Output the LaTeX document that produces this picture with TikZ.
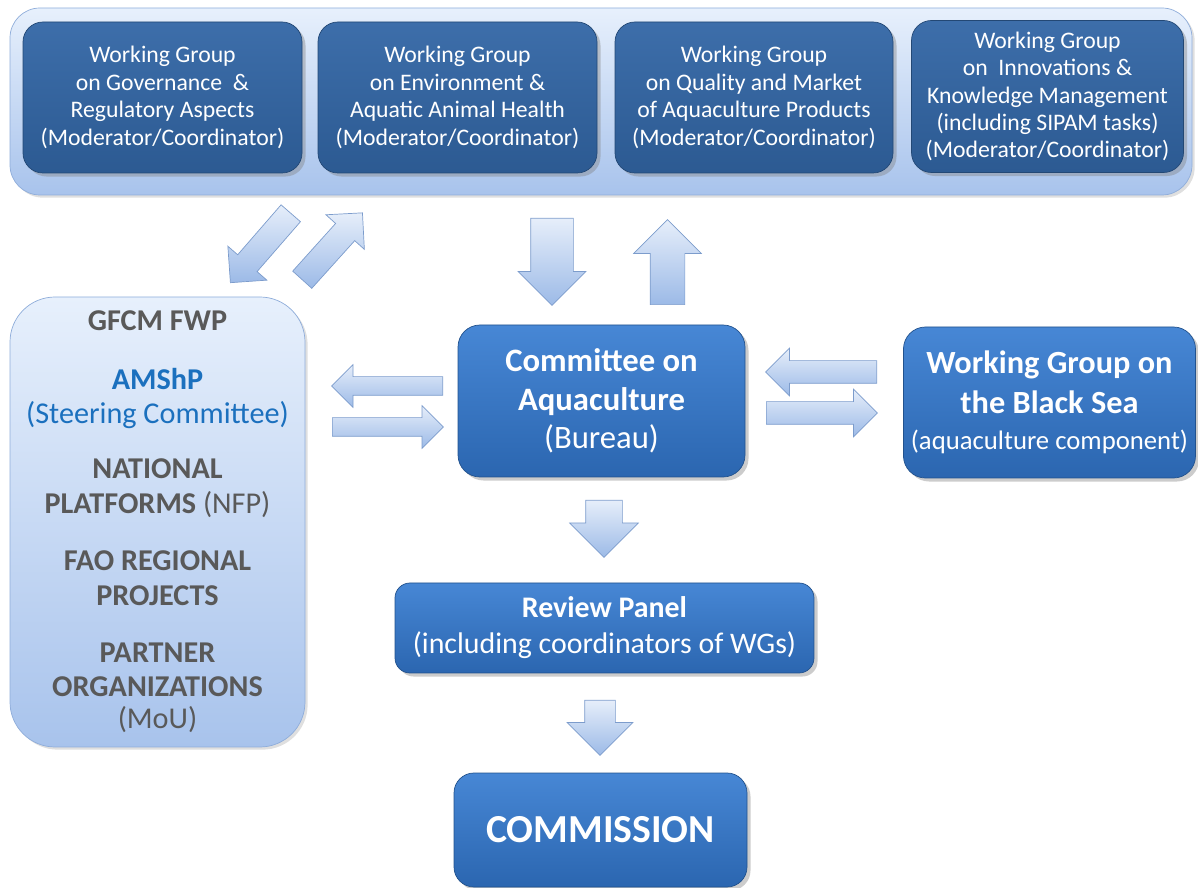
\documentclass[tikz,border=0pt]{standalone}
\usepackage{fontspec}
\setmainfont{Carlito}
\usepackage{xcolor}
\usetikzlibrary{positioning,shapes,arrows,calc,shadows}

\definecolor{wgtop}{HTML}{3D6EAA}
\definecolor{wgbot}{HTML}{2C5A92}
\definecolor{bxtop}{HTML}{4787D5}
\definecolor{bxbot}{HTML}{2B66B0}
\definecolor{paletop}{HTML}{E7F0FC}
\definecolor{palebot}{HTML}{A8C3EC}
\definecolor{paleline}{HTML}{8FADDA}
\definecolor{arrtop}{HTML}{E6EEFA}
\definecolor{arrbot}{HTML}{9CBAE7}
\definecolor{arrline}{HTML}{7C9CCC}
\definecolor{greytext}{HTML}{595959}
\definecolor{amsblue}{HTML}{1B70BE}

\newlength\pxu
\setlength\pxu{0.02cm}

\tikzset{
  panel/.style={draw=paleline, top color=paletop, bottom color=palebot,
    drop shadow={shadow xshift=1.5pt, shadow yshift=-1.5pt, opacity=0.25}},
  wgbox/.style={draw=wgbot!80!black, top color=wgtop, bottom color=wgbot, text=white,
    rounded corners=0.4cm, align=center, inner sep=0pt,
    minimum height=151\pxu, font=\fontsize{13.5}{15.6}\selectfont,
    drop shadow={shadow xshift=2pt, shadow yshift=-2pt, opacity=0.4}},
  mainbox/.style={draw=bxbot!80!black, top color=bxtop, bottom color=bxbot, text=white,
    rounded corners=0.44cm, align=center, inner sep=0pt,
    drop shadow={shadow xshift=2pt, shadow yshift=-2pt, opacity=0.4}},
  barrow/.style={single arrow, draw=arrline, top color=arrtop, bottom color=arrbot,
    anchor=tail, inner xsep=0pt, single arrow tip angle=90, single arrow head indent=0pt},
  vbarrow/.style={barrow, inner ysep=0pt, inner xsep=#1}
}

\begin{document}
\begin{tikzpicture}[x=0.02cm, y=-0.02cm]
  \useasboundingbox (0,0) rectangle (1198,888);

  % working groups
  \node at (601,101.5) [panel, rounded corners=0.6cm, minimum width=1182\pxu, minimum height=187\pxu] (wgpanel) {};
  \node at (162.5,97.5) [wgbox, minimum width=279\pxu] (wggov) {Working Group\\on Governance~ \&\\Regulatory Aspects\\(Moderator/Coordinator)};
  \node at (457.5,97.5) [wgbox, minimum width=279\pxu] (wgenv) {Working Group\\on Environment \&\\Aquatic Animal Health\\(Moderator/Coordinator)};
  \node at (754,97.5) [wgbox, minimum width=278\pxu] (wgqual) {Working Group\\on Quality and Market\\of Aquaculture Products\\(Moderator/Coordinator)};
  \node at (1047.5,96.5) [wgbox, minimum width=272\pxu, minimum height=152\pxu] (wginno) {Working Group\\on~ Innovations \&\\Knowledge Management\\(including SIPAM tasks)\\(Moderator/Coordinator)};

  % partners
  \node at (157.5,522) [panel, rounded corners=0.9cm, minimum width=295\pxu, minimum height=450\pxu,
    align=center, text=greytext, font=\fontsize{17.2}{19.8}\selectfont] (gfcm)
    {\bfseries GFCM FWP\\[13.5pt]
     {\color{amsblue}\bfseries AMShP}\\
     {\color{amsblue}(Steering Committee)}\\[11.5pt]
     \bfseries NATIONAL\\
     {\bfseries PLATFORMS} (NFP)\\[12.5pt]
     \bfseries FAO REGIONAL\\
     \bfseries PROJECTS\\[12.5pt]
     \bfseries PARTNER\\
     \bfseries ORGANIZATIONS\\[-1.5pt]
     (MoU)};

  % committee, black sea, review, commission
  \node at (601.5,401) [mainbox, minimum width=287\pxu, minimum height=152\pxu,
    font=\fontsize{18.6}{22}\selectfont] (coa) {\bfseries Committee on\\\bfseries Aquaculture\\(Bureau)};
  \node at (1049.5,402.5) [mainbox, minimum width=292\pxu, minimum height=151\pxu,
    font=\fontsize{18.4}{22.7}\selectfont] (bsea)
    {\bfseries Working Group on\\\bfseries the Black Sea\\[-2pt]{\fontsize{15.2}{17}\selectfont (aquaculture component)}};
  \node at (604.5,628) [mainbox, rounded corners=0.3cm, minimum width=419\pxu, minimum height=90\pxu,
    font=\fontsize{17}{20.4}\selectfont] (review) {\bfseries Review Panel\\(including coordinators of WGs)};
  \node at (600.5,830) [mainbox, rounded corners=0.4cm, minimum width=293\pxu, minimum height=114\pxu,
    font=\fontsize{22.6}{26}\selectfont\bfseries] (comm) {COMMISSION};

  % block arrows, placed by their tails
  \node at (291,213) [barrow, rotate=229, minimum height=92\pxu, inner ysep=12.5\pxu, single arrow head extend=13\pxu] (fb1) {};
  \node at (302,280) [barrow, rotate=48, minimum height=90\pxu, inner ysep=12.5\pxu, single arrow head extend=13\pxu] (fb2) {};
  \node at (552,218) [vbarrow=21\pxu, shape border rotate=270, minimum height=87\pxu, single arrow head extend=12.5\pxu] (dn1) {};
  \node at (667.5,305) [vbarrow=17\pxu, shape border rotate=90, minimum height=85\pxu, single arrow head extend=16.5\pxu] (up1) {};
  \node at (443,386) [barrow, shape border rotate=180, minimum height=111\pxu, inner ysep=9\pxu, single arrow head extend=12\pxu] (lt1) {};
  \node at (332,427) [barrow, shape border rotate=0, minimum height=111\pxu, inner ysep=9\pxu, single arrow head extend=12\pxu] (rt1) {};
  \node at (877,372) [barrow, shape border rotate=180, minimum height=111\pxu, inner ysep=11\pxu, single arrow head extend=12.5\pxu] (lt2) {};
  \node at (766,413) [barrow, shape border rotate=0, minimum height=111\pxu, inner ysep=11\pxu, single arrow head extend=12.5\pxu] (rt2) {};
  \node at (604,500) [vbarrow=18\pxu, shape border rotate=270, minimum height=57\pxu, single arrow head extend=16\pxu] (dn2) {};
  \node at (600,700) [vbarrow=15\pxu, shape border rotate=270, minimum height=55\pxu, single arrow head extend=17.5\pxu] (dn3) {};
\end{tikzpicture}
\end{document}
